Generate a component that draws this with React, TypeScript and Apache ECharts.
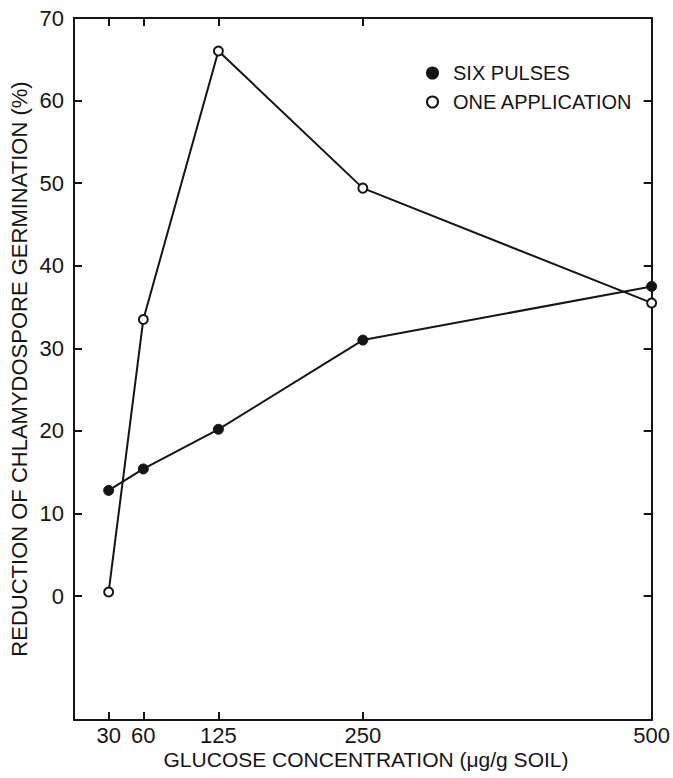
import React, { useEffect, useRef } from "react";
import * as echarts from "echarts";

const xValues = [30, 60, 125, 250, 500];
const sixPulses = [12.8, 15.4, 20.2, 31.0, 37.5];
const oneApplication = [0.5, 33.5, 66.0, 49.4, 35.5];
const xTickValues = [30, 60, 125, 250, 500];
const yTickValues = [0, 10, 20, 30, 40, 50, 60, 70];
const seriesNames = ["SIX PULSES", "ONE APPLICATION"];
const xTitle = "GLUCOSE CONCENTRATION (\u03bcg/g SOIL)";
const yTitle = "REDUCTION OF CHLAMYDOSPORE GERMINATION (%)";

const INK = "#151515";
const FONT = "'Liberation Sans', Arial, Helvetica, sans-serif";

export default function App() {
  const ref = useRef<HTMLDivElement>(null);
  useEffect(() => {
    if (!ref.current) return;
    const chart = echarts.init(ref.current, undefined, { renderer: "svg" });
    const pair = (ys: number[]) => xValues.map((x, i) => [x, ys[i]]);
    const axisLine = { show: true, onZero: false, lineStyle: { color: INK, width: 2 } };
    chart.setOption({
      animation: false,
      backgroundColor: "#fff",
      textStyle: { fontFamily: FONT, color: INK },
      grid: { left: 74, right: 19, top: 18, bottom: 58, containLabel: false },
      legend: {
        orient: "vertical",
        left: 421,
        top: 58,
        itemWidth: 11,
        itemHeight: 11,
        itemGap: 9,
        selectedMode: false,
        textStyle: { fontSize: 20, lineHeight: 20, color: INK, fontFamily: FONT, padding: [0, 0, 0, 10] },
        data: [
          { name: seriesNames[0], icon: "circle" },
          { name: seriesNames[1], icon: "circle" },
        ],
      },
      xAxis: [
        {
          type: "value",
          position: "bottom",
          min: 0,
          max: 500,
          axisLine,
          splitLine: { show: false },
          axisTick: { show: true, inside: true, length: 8, customValues: xTickValues, lineStyle: { color: INK, width: 2 } },
          axisLabel: { show: true, customValues: xTickValues, fontSize: 22, color: INK, fontFamily: FONT, margin: 4 },
        },
        {
          type: "value",
          position: "top",
          min: 0,
          max: 500,
          axisLine,
          splitLine: { show: false },
          axisTick: { show: true, inside: true, length: 8, customValues: [30, 60, 125, 250], lineStyle: { color: INK, width: 2 } },
          axisLabel: { show: false },
        },
      ],
      yAxis: [
        {
          type: "value",
          position: "left",
          min: -15,
          max: 70,
          axisLine,
          splitLine: { show: false },
          axisTick: { show: true, inside: true, length: 8, customValues: yTickValues, lineStyle: { color: INK, width: 2 } },
          axisLabel: { show: true, customValues: yTickValues, fontSize: 22, color: INK, fontFamily: FONT, margin: 10 },
        },
        {
          type: "value",
          position: "right",
          min: -15,
          max: 70,
          axisLine,
          splitLine: { show: false },
          axisTick: { show: true, inside: true, length: 8, customValues: yTickValues, lineStyle: { color: INK, width: 2 } },
          axisLabel: { show: false },
        },
      ],
      graphic: [
        {
          type: "text",
          x: 366,
          y: 759,
          style: { text: xTitle, fill: INK, font: `21px ${FONT}`, textAlign: "center", textVerticalAlign: "middle" },
        },
        {
          type: "text",
          x: 19,
          y: 369,
          rotation: Math.PI / 2,
          style: { text: yTitle, fill: INK, font: `22px ${FONT}`, textAlign: "center", textVerticalAlign: "middle" },
        },
      ],
      series: [
        {
          name: seriesNames[0],
          type: "line",
          xAxisIndex: 0,
          yAxisIndex: 0,
          data: pair(sixPulses),
          symbol: "circle",
          symbolSize: 10,
          lineStyle: { color: INK, width: 2 },
          itemStyle: { color: INK, borderColor: INK, borderWidth: 1 },
          z: 3,
        },
        {
          name: seriesNames[1],
          type: "line",
          xAxisIndex: 0,
          yAxisIndex: 0,
          data: pair(oneApplication),
          symbol: "circle",
          symbolSize: 9,
          showAllSymbol: true,
          lineStyle: { color: INK, width: 2 },
          itemStyle: { color: "#fff", borderColor: INK, borderWidth: 2 },
          z: 4,
        },
      ],
    });
    return () => chart.dispose();
  }, []);
  return (
    <div
      ref={ref}
      style={{ position: "absolute", left: 0, top: 0, width: 673, height: 778, background: "#fff" }}
    />
  );
}
